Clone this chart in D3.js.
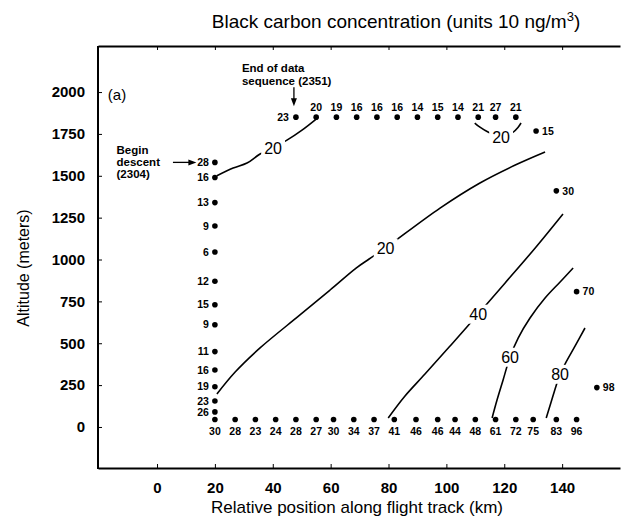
<!DOCTYPE html>
<html><head><meta charset="utf-8">
<script src="https://cdn.jsdelivr.net/npm/d3@7"></script>
<style>
body{margin:0;background:#fff;}
svg{display:block;font-family:"Liberation Sans",Arial,sans-serif;}
</style></head><body>
<svg id="chart" width="625" height="522"></svg>
<script>
// Descent profile at the start of the track
const descentKm = 20;
const descentAlt = [1580, 1490, 1340, 1200, 1045, 870, 730, 610, 450, 340, 240, 155, 90];
const descentConc = [28, 16, 13, 9, 6, 12, 15, 9, 11, 16, 19, 23, 26];

// Low-level leg
const lowAlt = 45;
const lowKm = [20, 27, 34, 41, 48, 55, 61, 68, 75, 82, 89.5, 97, 103, 110, 117, 124, 130, 138, 145];
const lowConc = [30, 28, 23, 24, 28, 27, 30, 34, 37, 41, 46, 46, 44, 48, 61, 72, 75, 83, 96];

// Upper leg
const highAlt = 1850;
const highKm = [48, 55, 62, 69, 76, 83, 90, 97, 104, 111, 117, 124];
const highConc = [23, 20, 19, 16, 16, 16, 14, 15, 14, 21, 27, 21];

// Far-end profile
const endKm = [131, 138, 145, 152];
const endAlt = [1767, 1410, 808, 235];
const endConc = [15, 30, 70, 98];

// Hand-analysed isolines [km, m]; labelAt is the vertex carrying the level label
const contour20a = [[20.7,1500],[26.3,1546],[31.1,1576],[35.6,1630],[40.1,1666],[44.9,1713],[50.1,1773],[55,1839]];
const contour20b = [[20.7,197],[27,328],[35.6,472],[49.4,669],[59.8,818],[68.8,949],[73.3,1003],[79,1070],[97.8,1307],[111.6,1457],[123.8,1564],[134.1,1642]];
const contour20c = [[109.8,1815],[111.6,1790],[114.4,1761],[118.9,1731],[123.1,1761],[124.8,1790],[125.8,1815]];
const contour40 = [[79.9,54],[85.7,185],[92.6,316],[101.3,484],[111,675],[120.3,860],[130.7,1069],[140.3,1272]];
const contour60 = [[115.8,54],[117.5,161],[119.6,281],[122,418],[124.8,531],[128.9,651],[134.1,770],[139.3,866],[143.8,949]];
const contour80 = [[134.5,54],[136.2,149],[137.9,245],[139.3,316],[141,376],[144.5,484],[147.9,591]];
const contours = [
  {level: 20, pts: contour20a, labelAt: 4},
  {level: 20, pts: contour20b, labelAt: 7},
  {level: 20, pts: contour20c, labelAt: 3},
  {level: 40, pts: contour40, labelAt: 4},
  {level: 60, pts: contour60, labelAt: 3},
  {level: 80, pts: contour80, labelAt: 3}
];

const xTicks = [0, 20, 40, 60, 80, 100, 120, 140];
const yTicks = [0, 250, 500, 750, 1000, 1250, 1500, 1750, 2000];

const svg = d3.select("#chart");
const L = 98, R = 620, T = 46, B = 468;
const x = d3.scaleLinear().domain([-20.4, 160]).range([L, R]);
const y = d3.scaleLinear().domain([-245, 2275]).range([B, T]);

// Frame and ticks
const gl = svg.append("g").attr("transform", `translate(${L},0)`)
  .call(d3.axisLeft(y).tickValues(yTicks).tickFormat(d3.format("d"))
    .tickSizeInner(-4).tickSizeOuter(0).tickPadding(13));
const gb = svg.append("g").attr("transform", `translate(0,${B})`)
  .call(d3.axisBottom(x).tickValues(xTicks).tickFormat(d3.format("d"))
    .tickSizeInner(-4).tickSizeOuter(0).tickPadding(14));
const gt = svg.append("g").attr("transform", `translate(0,${T})`)
  .call(d3.axisTop(x).tickValues(xTicks).tickSizeInner(-4).tickSizeOuter(0).tickFormat(""));
[gl, gb, gt].forEach(g => {
  g.select(".domain").attr("stroke", "#000").attr("stroke-width", 2);
  g.selectAll(".tick line").attr("stroke", "#000").attr("stroke-width", 1);
  g.selectAll(".tick text").attr("fill", "#000").attr("font-size", 15).attr("font-weight", "bold")
    .attr("font-family", "Liberation Sans, Arial, sans-serif");
});
gl.select(".domain").attr("d", `M0,${T}V${B + 1}`);

// Titles
const title = svg.append("text").attr("x", 396).attr("y", 28).attr("text-anchor", "middle")
  .attr("font-size", 19).attr("fill", "#000");
title.append("tspan").text("Black carbon concentration (units 10 ng/m");
title.append("tspan").attr("dy", -7).attr("font-size", 13).text("3");
title.append("tspan").attr("dy", 7).text(")");

svg.append("text").attr("x", 357).attr("y", 513).attr("text-anchor", "middle")
  .attr("font-size", 17).attr("fill", "#000").text("Relative position along flight track (km)");
svg.append("text").attr("transform", "translate(29,268) rotate(-90)").attr("text-anchor", "middle")
  .attr("font-size", 16).attr("fill", "#000").text("Altitude (meters)");

svg.append("text").attr("x", x(-17)).attr("y", y(1950)).attr("font-size", 15)
  .attr("fill", "#000").text("(a)");

// Isolines
const line = d3.line().x(d => x(d[0])).y(d => y(d[1])).curve(d3.curveCatmullRom.alpha(0.5));
const cg = svg.append("g");
contours.forEach(c => {
  cg.append("path").attr("d", line(c.pts)).attr("fill", "none")
    .attr("stroke", "#000").attr("stroke-width", 1.6);
});
contours.forEach(c => {
  const p = c.pts[c.labelAt];
  const t = cg.append("text").attr("x", x(p[0])).attr("y", y(p[1])).attr("dy", "0.36em")
    .attr("text-anchor", "middle").attr("font-size", 16).attr("fill", "#000").text(c.level);
  const bb = t.node().getBBox();
  cg.insert("rect", () => t.node()).attr("x", bb.x - 3).attr("y", bb.y - 1)
    .attr("width", bb.width + 6).attr("height", bb.height + 2).attr("fill", "#fff");
});

// Observation points
const pg = svg.append("g").attr("fill", "#000");
function dot(km, alt) {
  pg.append("circle").attr("cx", x(km)).attr("cy", y(alt)).attr("r", 2.8);
}
function label(px, py, txt, anchor) {
  pg.append("text").attr("x", px).attr("y", py).attr("text-anchor", anchor)
    .attr("dy", "0.35em").attr("font-size", 10.5).attr("font-weight", "bold").text(txt);
}
descentAlt.forEach((a, i) => {
  dot(descentKm, a);
  label(x(descentKm) - 6, y(a), descentConc[i], "end");
});
lowKm.forEach((k, i) => {
  dot(k, lowAlt);
  label(x(k), y(lowAlt) + 12, lowConc[i], "middle");
});
highKm.forEach((k, i) => {
  dot(k, highAlt);
  if (i === 0) label(x(k) - 7, y(highAlt), highConc[i], "end");
  else label(x(k), y(highAlt) - 10, highConc[i], "middle");
});
endKm.forEach((k, i) => {
  dot(k, endAlt[i]);
  label(x(k) + 6, y(endAlt[i]), endConc[i], "start");
});

// Annotations
const ag = svg.append("g").attr("fill", "#000").attr("font-size", 11.5).attr("font-weight", "bold");
const bx = x(-14), by = y(descentAlt[0]);
["Begin", "descent", "(2304)"].forEach((s, i) => {
  ag.append("text").attr("x", bx).attr("y", by - 12 + i * 12).attr("dy", "0.35em").text(s);
});
const ax0 = x(5.5), ax1 = x(13.6);
ag.append("line").attr("x1", ax0).attr("x2", ax1 - 6).attr("y1", by).attr("y2", by)
  .attr("stroke", "#000").attr("stroke-width", 1.3);
ag.append("path").attr("d", `M${ax1},${by}L${ax1 - 8},${by - 3}L${ax1 - 8},${by + 3}Z`);

const ex = x(highKm[0]), ey = y(highAlt);
["End of data", "sequence (2351)"].forEach((s, i) => {
  ag.append("text").attr("x", ex - 54).attr("y", ey - 49 + i * 13).attr("dy", "0.35em").text(s);
});
ag.append("line").attr("x1", ex - 2).attr("x2", ex - 2).attr("y1", ey - 30).attr("y2", ey - 17)
  .attr("stroke", "#000").attr("stroke-width", 1.3);
ag.append("path").attr("d", `M${ex - 2},${ey - 11}L${ex - 5},${ey - 19}L${ex + 1},${ey - 19}Z`);
</script>
</body></html>
